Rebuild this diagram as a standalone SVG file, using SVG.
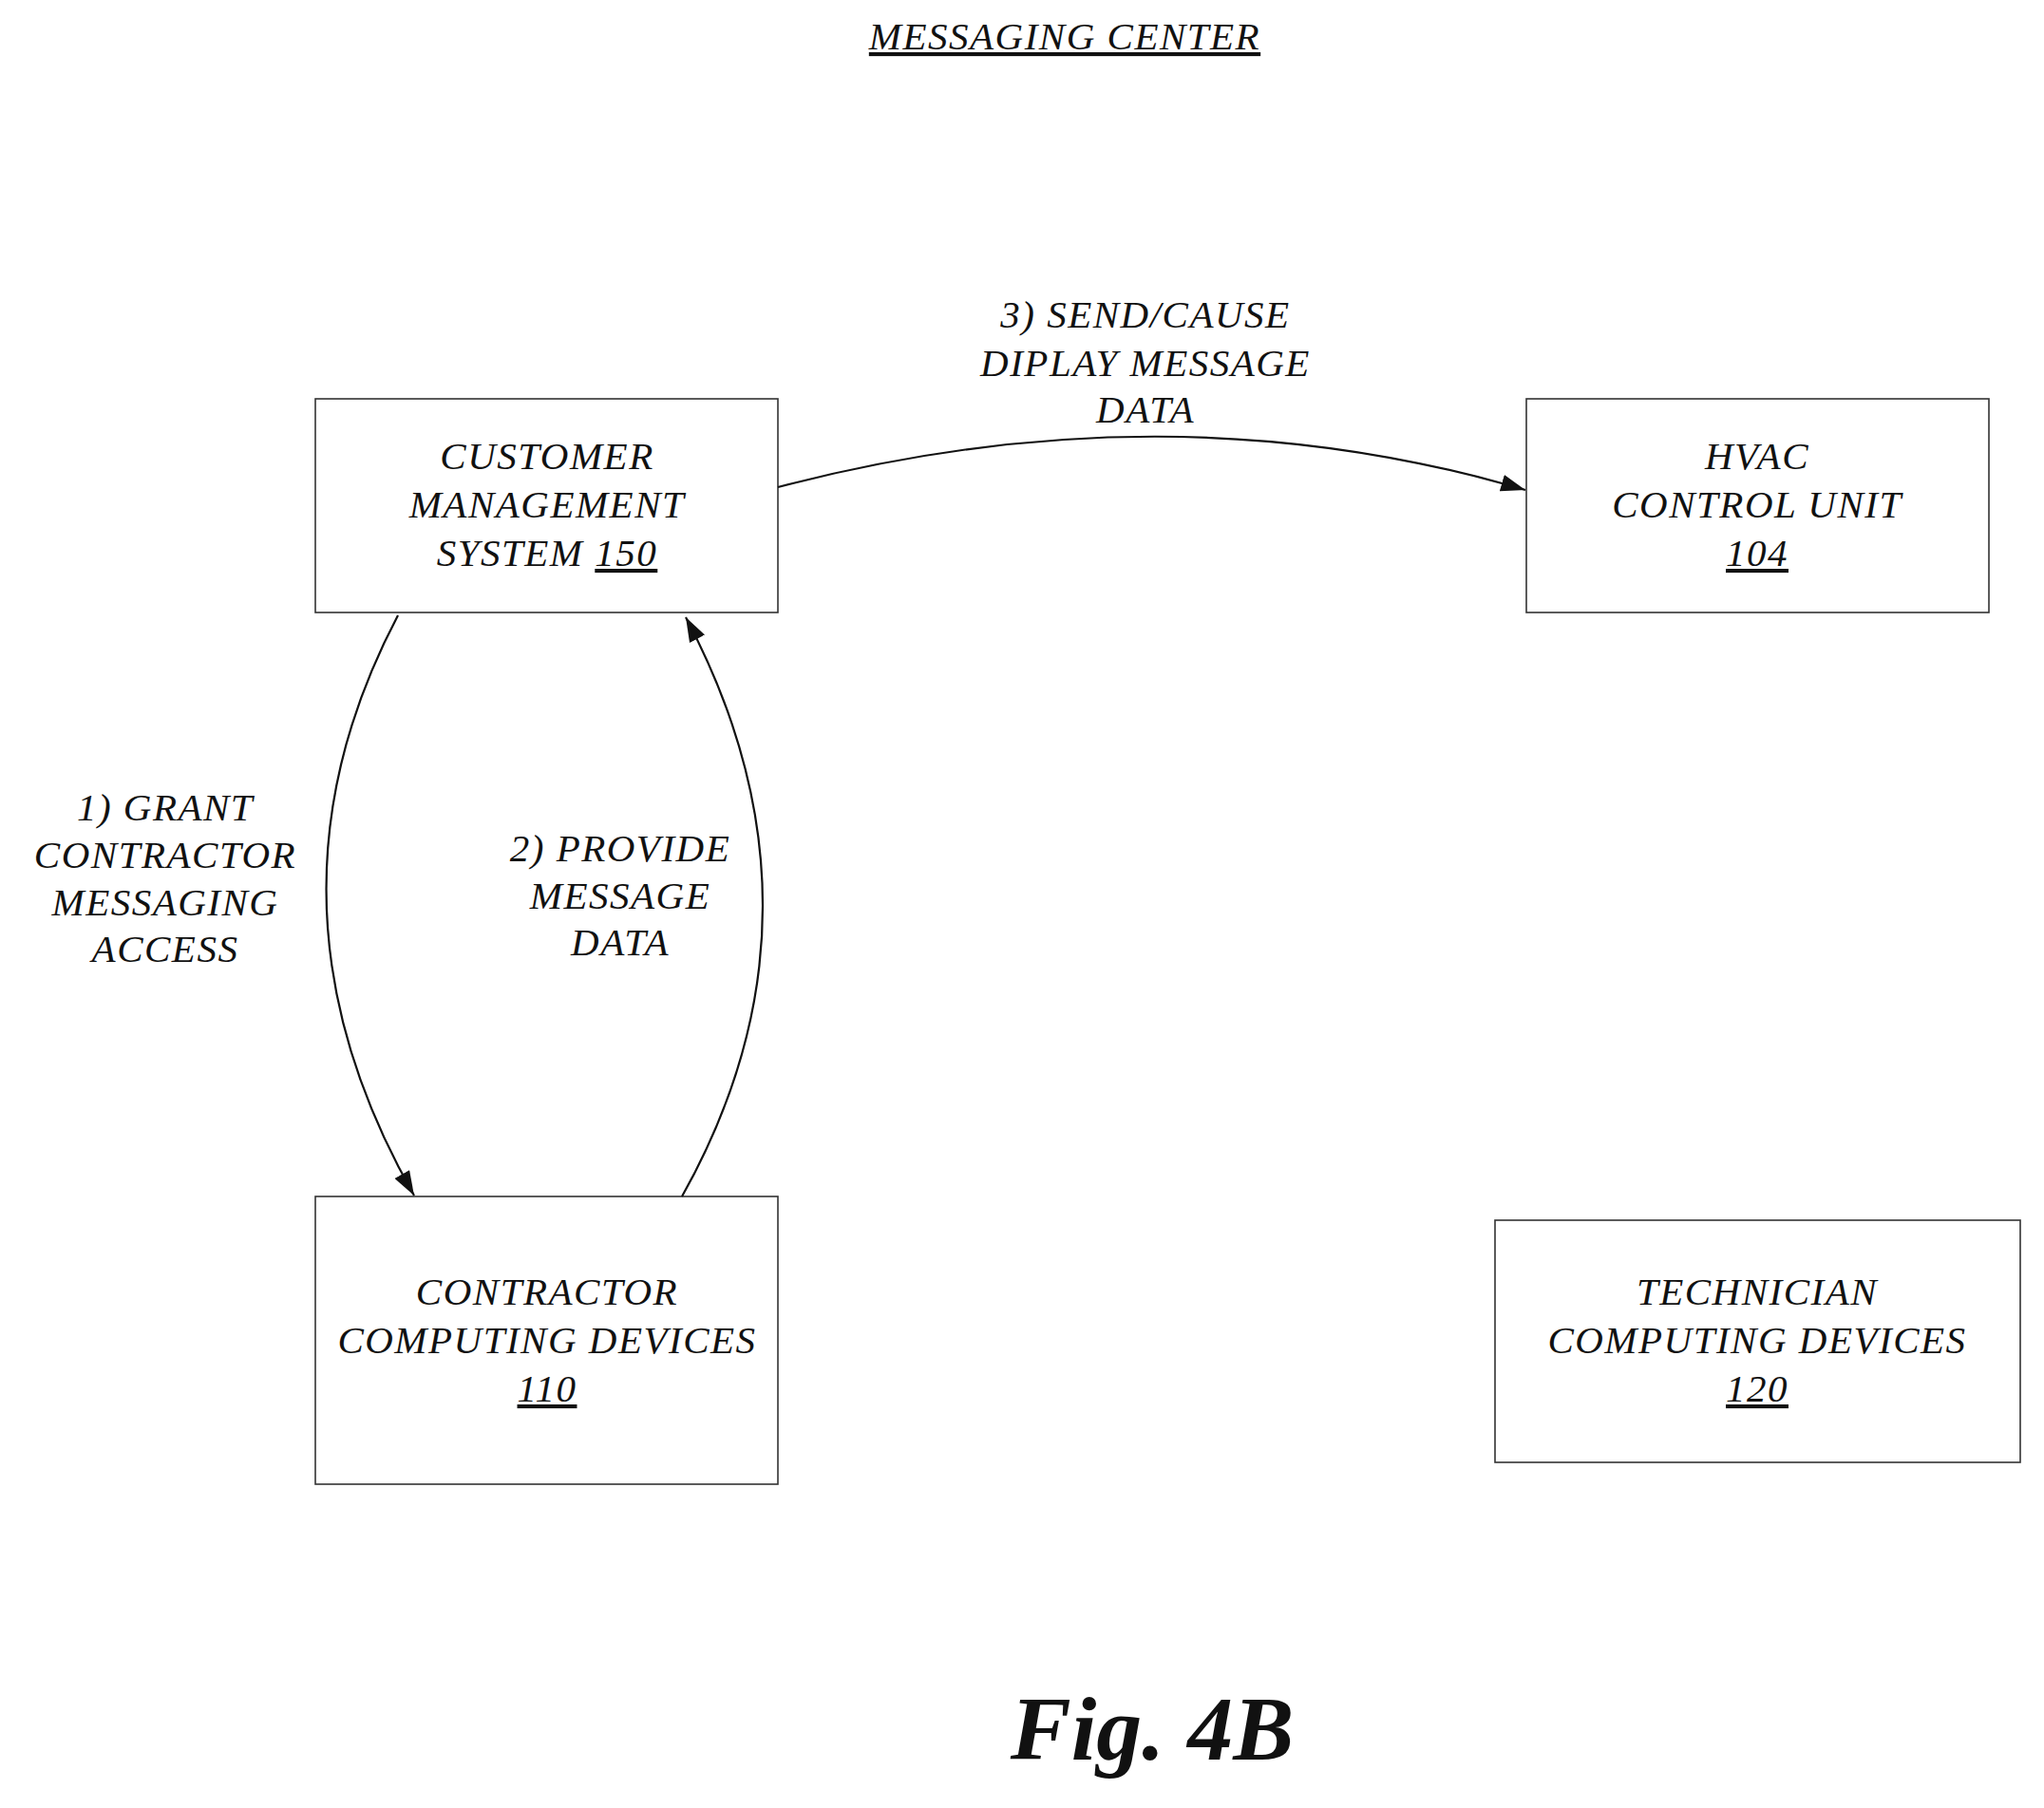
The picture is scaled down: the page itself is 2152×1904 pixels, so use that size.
<svg xmlns="http://www.w3.org/2000/svg" width="2152" height="1904" viewBox="0 0 2152 1904">
<style>
text{font-family:"Liberation Serif","DejaVu Serif",serif;font-style:italic;font-size:41px;letter-spacing:1.5px;text-anchor:middle;fill:#111}
.box{fill:#fff;stroke:#333;stroke-width:1.6}
.c{fill:none;stroke:#111;stroke-width:2.2}
</style>
<defs><marker id="a" viewBox="0 0 20 14" refX="20" refY="7" markerWidth="26" markerHeight="18" markerUnits="userSpaceOnUse" orient="auto"><path d="M0,0 L20,7 L0,14 Z" fill="#111"/></marker></defs>
<rect width="2152" height="1904" fill="#fff"/>
<text x="1121" y="52" text-decoration="underline">MESSAGING CENTER</text>
<g id="cms"><rect class="box" x="332" y="420" width="487" height="225"/>
<text x="576" y="494">CUSTOMER</text><text x="576" y="545">MANAGEMENT</text><text x="576" y="596">SYSTEM <tspan text-decoration="underline">150</tspan></text></g>
<g id="hvac"><rect class="box" x="1607" y="420" width="487" height="225"/>
<text x="1850" y="494">HVAC</text><text x="1850" y="545">CONTROL UNIT</text><text x="1850" y="596" text-decoration="underline">104</text></g>
<g id="contractor"><rect class="box" x="332" y="1260" width="487" height="303"/>
<text x="576" y="1374">CONTRACTOR</text><text x="576" y="1425">COMPUTING DEVICES</text><text x="576" y="1476" text-decoration="underline">110</text></g>
<g id="technician"><rect class="box" x="1574" y="1285" width="553" height="255"/>
<text x="1850" y="1374">TECHNICIAN</text><text x="1850" y="1425">COMPUTING DEVICES</text><text x="1850" y="1476" text-decoration="underline">120</text></g>
<g id="connectors">
<path class="c" d="M819,513 Q1230,405 1606,516" marker-end="url(#a)"/>
<path class="c" d="M419,648 Q260,950 436,1259" marker-end="url(#a)"/>
<path class="c" d="M718,1260 Q886,960 722,650" marker-end="url(#a)"/>
</g>
<g id="labels">
<text x="1206" y="345">3) SEND/CAUSE</text><text x="1206" y="396">DIPLAY MESSAGE</text><text x="1206" y="445">DATA</text>
<text x="174" y="864">1) GRANT</text><text x="174" y="914">CONTRACTOR</text><text x="174" y="964">MESSAGING</text><text x="174" y="1013">ACCESS</text>
<text x="653" y="907">2) PROVIDE</text><text x="653" y="957">MESSAGE</text><text x="653" y="1006">DATA</text>
</g>
<text x="1213" y="1853" style="font-size:96px;font-weight:bold;letter-spacing:0">Fig. 4B</text>
</svg>
